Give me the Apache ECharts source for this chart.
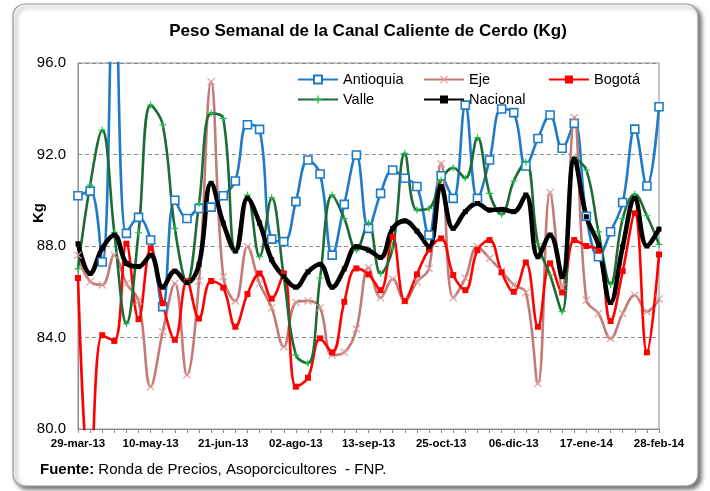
<!DOCTYPE html>
<html>
<head>
<meta charset="utf-8">
<title>Peso Semanal de la Canal Caliente de Cerdo</title>
<script src="https://cdn.jsdelivr.net/npm/echarts@6/dist/echarts.min.js"></script>
<style>
	html, body { margin: 0; padding: 0; background: #fff; }
	#chart { width: 710px; height: 491px; }
</style>
</head>
<body>
<div id="chart"></div>
<script>
// semanas
let fechas = [
	'29-mar-13', '05-abr-13', '12-abr-13', '19-abr-13', '26-abr-13', '03-may-13', '10-may-13',
	'17-may-13', '24-may-13', '31-may-13', '07-jun-13', '14-jun-13', '21-jun-13', '28-jun-13',
	'05-jul-13', '12-jul-13', '19-jul-13', '26-jul-13', '02-ago-13', '09-ago-13', '16-ago-13',
	'23-ago-13', '30-ago-13', '06-sep-13', '13-sep-13', '20-sep-13', '27-sep-13', '04-oct-13',
	'11-oct-13', '18-oct-13', '25-oct-13', '01-nov-13', '08-nov-13', '15-nov-13', '22-nov-13',
	'29-nov-13', '06-dic-13', '13-dic-13', '20-dic-13', '27-dic-13', '03-ene-14', '10-ene-14',
	'17-ene-14', '24-ene-14', '31-ene-14', '07-feb-14', '14-feb-14', '21-feb-14', '28-feb-14',
];
let antioquia = [
	90.2, 90.4, 87.3, 101.0, 88.55, 89.25, 88.26, 85.35, 90.0, 89.2, 89.64, 89.7, 90.2, 90.84,
	93.3, 93.1, 88.3, 88.19, 89.94, 91.76, 91.15, 87.6, 89.82, 91.98, 88.77, 90.3, 91.32, 90.96,
	90.6, 88.48, 91.07, 90.08, 94.16, 90.08, 91.76, 93.99, 93.83, 91.5, 92.7, 93.73, 92.27, 93.36,
	89.3, 87.53, 88.62, 89.9, 93.11, 90.62, 94.09,
];
let eje = [
	87.6, 86.44, 86.3, 87.6, 86.36, 85.6, 81.85, 84.25, 86.36, 82.36, 86.47, 95.18, 86.66, 85.6,
	87.97, 86.36, 85.3, 83.6, 85.53, 85.6, 85.3, 83.23, 83.35, 84.37, 87.05, 85.74, 86.55, 85.6,
	86.44, 87.02, 91.6, 85.74, 86.6, 87.97, 87.46, 86.9, 86.3, 85.97, 81.99, 90.34, 86.2, 93.61,
	85.63, 85.05, 83.96, 85.05, 85.85, 85.13, 85.68,
];
let bogota = [
	86.6, 77.5, 84.1, 83.85, 88.1, 84.8, 87.9, 85.5, 83.9, 86.47, 84.83, 86.47, 86.18, 84.47,
	85.9, 86.8, 85.7, 86.8, 81.85, 82.24, 83.96, 83.35, 85.56, 87.02, 86.76, 86.07, 88.4, 85.6,
	86.76, 87.85, 88.33, 86.73, 86.07, 87.82, 88.26, 86.85, 86.0, 87.28, 84.47, 87.24, 85.97, 88.26,
	88.0, 87.8, 84.72, 86.9, 89.43, 83.35, 87.63,
];
let valle = [
	87.0, 90.66, 93.07, 88.6, 84.6, 88.58, 94.16, 93.3, 88.77, 86.44, 89.86, 93.8, 93.58, 87.8,
	90.23, 87.53, 90.11, 86.66, 83.23, 82.87, 86.6, 90.23, 89.2, 87.82, 89.0, 86.8, 87.9, 92.05,
	89.57, 89.64, 90.88, 91.42, 90.96, 92.73, 90.3, 89.38, 90.84, 91.68, 88.1, 86.73, 85.13, 91.83,
	91.32, 88.62, 86.32, 89.2, 90.26, 89.32, 88.07,
];
let nacional = [
	88.1, 86.8, 87.9, 88.48, 87.24, 87.1, 87.6, 86.2, 86.9, 86.4, 87.2, 90.74, 89.0, 87.78,
	90.08, 89.0, 87.4, 86.66, 86.2, 86.87, 87.2, 86.2, 87.0, 87.97, 87.82, 87.5, 88.77, 89.1,
	88.65, 87.97, 90.6, 88.77, 89.5, 89.86, 89.57, 89.6, 89.5, 90.23, 87.53, 88.48, 86.66, 91.8,
	89.28, 88.03, 85.53, 87.97, 90.08, 88.0, 88.74,
];

let fuente = "'Liberation Sans', Arial, sans-serif";
// marcadores
let simbolo_x = 'path://M0,1L1,0L5,4L9,0L10,1L6,5L10,9L9,10L5,6L1,10L0,9L4,5Z';
let simbolo_mas = 'path://M4.2,0H5.8V4.2H10V5.8H5.8V10H4.2V5.8H0V4.2H4.2Z';

let chart = echarts.init(document.getElementById('chart'));

function serie(name, data, color, width, symbol, size, itemStyle) {
	return {
		name: name,
		type: 'line',
		data: data,
		smooth: 0.4,
		symbol: symbol,
		symbolSize: size,
		showAllSymbol: true,
		lineStyle: { color: color, width: width },
		itemStyle: itemStyle,
		emphasis: { disabled: true },
		animation: false,
	};
}

function leyenda(name, left, top) {
	return {
		data: [name],
		left: left,
		top: top,
		itemWidth: 40,
		itemHeight: 10,
		itemGap: 0,
		textStyle: { fontFamily: fuente, fontSize: 14.5, color: '#000' },
		selectedMode: false,
	};
}

let option = {
	backgroundColor: '#fff',
	title: {
		text: 'Peso Semanal de la Canal Caliente de Cerdo (Kg)',
		left: 363,
		top: 18,
		textAlign: 'center',
		textStyle: { fontFamily: fuente, fontSize: 17, fontWeight: 'bold', color: '#000' },
	},
	legend: [
		leyenda('Antioquia', 292, 67),
		leyenda('Eje', 418, 67),
		leyenda('Bogotá', 543, 67),
		leyenda('Valle', 292, 87),
		leyenda('Nacional', 418, 87),
	],
	grid: {
		left: 78,
		right: 51,
		top: 63,
		bottom: 62,
		show: true,
		borderColor: '#8c8c8c',
		borderWidth: 1,
	},
	xAxis: {
		type: 'category',
		data: fechas,
		boundaryGap: false,
		axisLine: { lineStyle: { color: '#8c8c8c', width: 1 } },
		axisTick: { show: true, interval: 0, length: 4, lineStyle: { color: '#8c8c8c' } },
		axisLabel: {
			interval: 5,
			margin: 9,
			fontFamily: fuente,
			fontSize: 11.5,
			fontWeight: 'bold',
			color: '#000',
			showMaxLabel: true,
		},
		splitLine: { show: false },
	},
	yAxis: {
		type: 'value',
		min: 80,
		max: 96,
		interval: 4,
		axisLine: { show: true, lineStyle: { color: '#8c8c8c', width: 1 } },
		axisTick: { show: false },
		axisLabel: {
			margin: 12,
			fontFamily: fuente,
			fontSize: 15,
			color: '#000',
			formatter: (v) => v.toFixed(1),
		},
		splitLine: { show: true, lineStyle: { color: '#8c8c8c', type: [4, 3], width: 1 } },
	},
	graphic: [
		{
			// marco redondeado
			type: 'rect',
			z: -10,
			shape: { x: 13, y: 4, width: 685, height: 482, r: 12 },
			style: {
				fill: '#fff',
				stroke: '#9a9a9a',
				lineWidth: 1.2,
				shadowBlur: 4,
				shadowOffsetX: 3,
				shadowOffsetY: 3,
				shadowColor: 'rgba(0,0,0,0.55)',
			},
		},
		{
			type: 'text',
			x: 39,
			y: 213,
			rotation: Math.PI / 2,
			style: {
				text: 'Kg',
				font: "bold 15px 'Liberation Sans', Arial, sans-serif",
				fill: '#000',
				align: 'center',
				verticalAlign: 'middle',
			},
		},
		{
			type: 'text',
			x: 40,
			y: 470,
			style: {
				text: '{b|Fuente:} Ronda de Precios, Asoporcicultores  - FNP.',
				fill: '#000',
				font: "15px 'Liberation Sans', Arial, sans-serif",
				verticalAlign: 'middle',
				rich: {
					b: { fontWeight: 'bold', fontSize: 15, fontFamily: fuente, fill: '#000' },
				},
			},
		},
	],
	series: [
		serie('Antioquia', antioquia, '#1f7bc8', 2.6, 'rect', 8,
			{ color: '#fff', borderColor: '#1f7bc8', borderWidth: 1.6 }),
		serie('Eje', eje, '#c47a78', 2.6, simbolo_x, 8,
			{ color: '#dc9c9a' }),
		serie('Bogotá', bogota, '#ff0000', 2.6, 'rect', 6,
			{ color: '#ff0000' }),
		serie('Valle', valle, '#1d6b36', 2.6, simbolo_mas, 7,
			{ color: '#1fc04a' }),
		serie('Nacional', nacional, '#000000', 4.6, 'rect', 5,
			{ color: '#000000' }),
	],
};

chart.setOption(option);
</script>
</body>
</html>
